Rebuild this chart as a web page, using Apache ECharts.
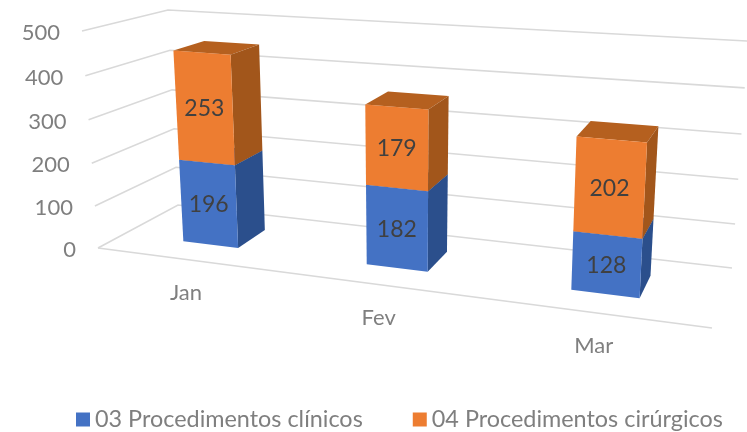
<!DOCTYPE html>
<html>
<head>
<meta charset="utf-8">
<script src="https://cdn.jsdelivr.net/npm/echarts@6/dist/echarts.min.js"></script>
<style>
	html, body { margin: 0; padding: 0; background: #fff; }
	#chart { width: 747px; height: 432px; }
</style>
</head>
<body>
<div id="chart"></div>
<script>
	var categories = ['Jan', 'Fev', 'Mar'];
	var clinicos = [196, 182, 128];
	var cirurgicos = [253, 179, 202];
	var yTicks = [0, 100, 200, 300, 400, 500];

	var fontName = 'Lato, "Open Sans", sans-serif';
	var plot = { left: 100, top: 40, width: 600, height: 300 };

	// cantos da caixa 3D na tela (f = frente, b = fundo; l/r; 0 = base, 1 = topo)
	var box = {
		fl0: [98, 248], fr0: [712, 328], bl0: [178, 205], br0: [732, 268],
		fl1: [82, 31], fr1: [727, 76], bl1: [168, 10], br1: [748, 41]
	};
	var persp = 1.18;
	var perspY = 1.04;
	var barBand = 0.31;
	var depthFront = 0.33;
	var depthBack = 0.72;

	function mix(a, b, k) {
		return [a[0] + (b[0] - a[0]) * k, a[1] + (b[1] - a[1]) * k];
	}
	// s: 0..1 ao longo das categorias, d: 0..1 profundidade, t: 0..1 altura
	function project(s, d, t) {
		var g = s / (persp - (persp - 1) * s);
		var h = t / (perspY - (perspY - 1) * t);
		var base = mix(mix(box.fl0, box.fr0, g), mix(box.bl0, box.br0, g), d);
		var top = mix(mix(box.fl1, box.fr1, g), mix(box.bl1, box.br1, g), d);
		return mix(base, top, h);
	}
	// passa do pixel do grid (escala do eixo) para s/t
	function toS(api, cat, off) {
		var band = api.size([1, 0])[0];
		return (api.coord([cat, 0])[0] + off * band - plot.left) / plot.width;
	}
	function toT(api, val) {
		return (plot.top + plot.height - api.coord([0, val])[1]) / plot.height;
	}
	function poly(points, color) {
		return { type: 'polygon', shape: { points: points }, style: { fill: color } };
	}

	function barRender(front, side, top) {
		return function(params, api) {
			var cat = api.value(0);
			var s0 = toS(api, cat, -barBand / 2);
			var s1 = toS(api, cat, barBand / 2);
			var t0 = toT(api, api.value(1));
			var t1 = toT(api, api.value(2));
			var a = project(s0, depthFront, t0);
			var b = project(s1, depthFront, t0);
			var c = project(s1, depthFront, t1);
			var e = project(s0, depthFront, t1);
			var f = project(s1, depthBack, t0);
			var h = project(s1, depthBack, t1);
			var i = project(s0, depthBack, t1);
			var mid = project(toS(api, cat, 0), depthFront, (t0 + t1) / 2);
			return {
				type: 'group',
				children: [
					poly([e, c, h, i], top),
					poly([b, f, h, c], side),
					poly([a, b, c, e], front),
					{
						type: 'text',
						style: {
							x: mid[0], y: mid[1] + 1, text: String(api.value(2) - api.value(1)),
							fill: '#404040', font: '23px ' + fontName,
							align: 'center', verticalAlign: 'middle'
						}
					}
				]
			};
		};
	}

	function gridRender(params, api) {
		var val = api.value(0);
		var t = toT(api, val);
		var pts = [project(0, 0, t), project(0, 1, t), project(1, 1, t)];
		var children = [{
			type: 'polyline',
			shape: { points: pts },
			style: { fill: 'none', stroke: '#d9d9d9', lineWidth: 1.6 }
		}];
		if (val === 0) {
			children.push({
				type: 'line',
				shape: { x1: pts[0][0], y1: pts[0][1], x2: project(1, 0, 0)[0], y2: project(1, 0, 0)[1] },
				style: { stroke: '#d9d9d9', lineWidth: 1.6 }
			});
		}
		children.push({
			type: 'text',
			style: {
				x: pts[0][0] - 22, y: pts[0][1] + 2, text: String(val),
				fill: '#7f7f7f', font: '22px ' + fontName,
				align: 'right', verticalAlign: 'middle'
			}
		});
		return { type: 'group', children: children };
	}

	function catRender(params, api) {
		var cat = api.value(0);
		var p = project(toS(api, cat, 0), 0, 0);
		return {
			type: 'text',
			style: {
				x: p[0] - 1, y: p[1] + 33, text: categories[cat],
				fill: '#7f7f7f', font: '22px ' + fontName,
				align: 'center', verticalAlign: 'middle'
			}
		};
	}

	var clinicosData = categories.map(function(c, i) { return [i, 0, clinicos[i]]; });
	var cirurgicosData = categories.map(function(c, i) { return [i, clinicos[i], clinicos[i] + cirurgicos[i]]; });

	var myChart = echarts.init(document.getElementById('chart'), null, { renderer: 'canvas' });
	myChart.setOption({
		animation: false,
		backgroundColor: '#fff',
		grid: plot,
		xAxis: { type: 'category', data: categories, show: false },
		yAxis: { type: 'value', min: 0, max: 500, interval: 100, show: false },
		legend: {
			data: ['03 Procedimentos clínicos', '04 Procedimentos cirúrgicos'],
			icon: 'rect',
			left: 71,
			top: 403,
			itemWidth: 14,
			itemHeight: 14,
			itemGap: 50,
			textStyle: { color: '#7f7f7f', fontSize: 23.4, fontFamily: fontName }
		},
		series: [
			{
				name: 'grade', type: 'custom', coordinateSystem: 'cartesian2d', clip: false, silent: true,
				data: yTicks.map(function(v) { return [v]; }),
				encode: { y: 0 },
				renderItem: gridRender
			},
			{
				name: 'categorias', type: 'custom', coordinateSystem: 'cartesian2d', clip: false, silent: true,
				data: categories.map(function(c, i) { return [i]; }),
				encode: { x: 0 },
				renderItem: catRender
			},
			{
				name: '03 Procedimentos clínicos', type: 'custom', coordinateSystem: 'cartesian2d', clip: false,
				itemStyle: { color: '#4472c4' },
				data: clinicosData,
				encode: { x: 0, y: 2 },
				renderItem: barRender('#4472c4', '#2b4f8c', '#35599a')
			},
			{
				name: '04 Procedimentos cirúrgicos', type: 'custom', coordinateSystem: 'cartesian2d', clip: false,
				itemStyle: { color: '#ed7d31' },
				data: cirurgicosData,
				encode: { x: 0, y: 2 },
				renderItem: barRender('#ed7d31', '#a2561b', '#b5601f')
			}
		]
	});
</script>
</body>
</html>
